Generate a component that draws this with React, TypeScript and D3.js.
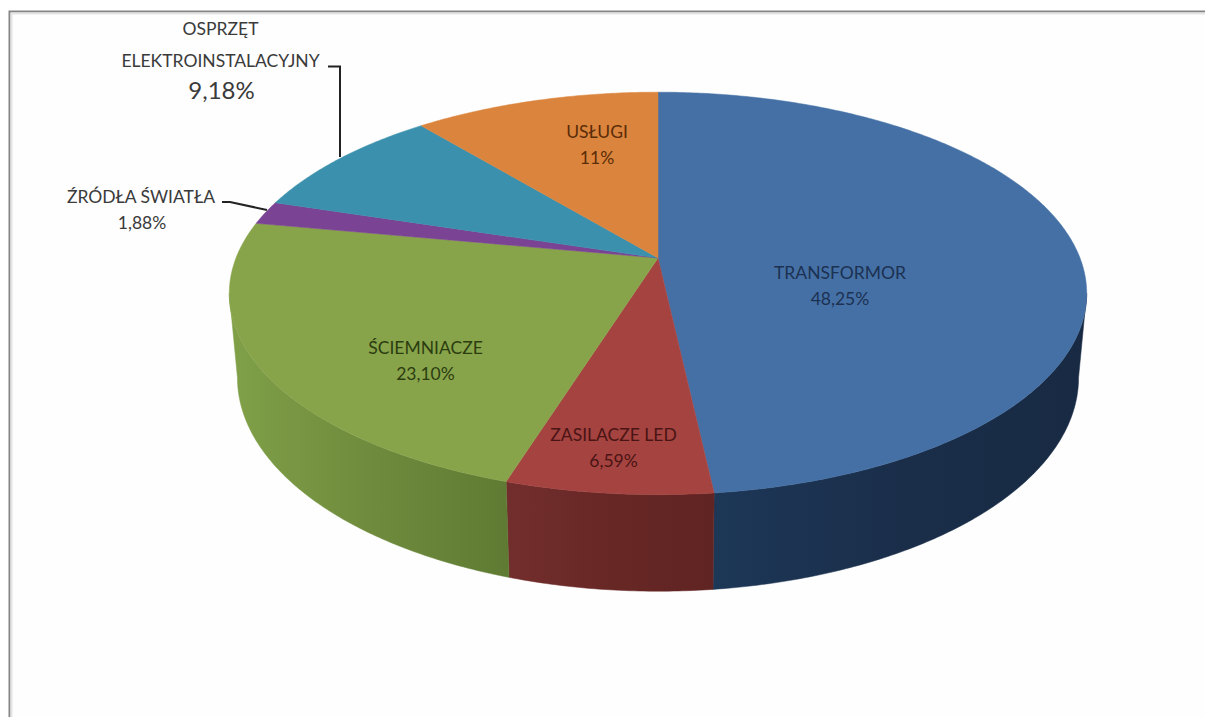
import React from "react";
import * as d3 from "d3";

// Sales structure by product group
const categories = ["TRANSFORMOR", "ZASILACZE LED", "ŚCIEMNIACZE", "ŹRÓDŁA ŚWIATŁA", "OSPRZĘT ELEKTROINSTALACYJNY", "USŁUGI"];
const shares = [48.25, 6.59, 23.1, 1.88, 9.18, 11];
const shareLabels = ["48,25%", "6,59%", "23,10%", "1,88%", "9,18%", "11%"];

const topColors = ["#4470a5", "#a54340", "#88a44b", "#7a4394", "#3b91ad", "#db843d"];
const labelColors = ["#1c3152", "#4a1414", "#2c3d10", "#3a3a3a", "#3a3a3a", "#5a2c08"];
const sideStops: string[][] = [
  ["#1d3757", "#1a2e4a", "#182a43"],
  ["#722e2c", "#672725", "#602422"],
  ["#80a048", "#6f8b3d", "#5f7b33"],
  ["#4a2a5c", "#4a2a5c", "#4a2a5c"],
  ["#25586a", "#25586a", "#25586a"],
  ["#84502a", "#84502a", "#84502a"],
];

// Perspective camera for the two rims of the disc
const cx = 658;
const tilt = 0.176;
const topRim = { a: 422, b: 195, y0: 258 };
const bottomRim = { a: 414, b: 207, y0: 340 };

type Rim = typeof topRim;
const project = (rim: Rim, t: number): [number, number] => {
  const w = 1 + tilt * Math.cos(t);
  return [cx + (rim.a * Math.sin(t)) / w, rim.y0 - (rim.b * Math.cos(t)) / w];
};
const sweep = (t0: number, t1: number) => {
  const n = Math.max(2, Math.ceil((t1 - t0) / 0.01));
  return d3.range(n + 1).map((i) => t0 + ((t1 - t0) * i) / n);
};

const arcs = d3.pie<number>().sort(null).value((d) => d)(shares);
const line = d3.line();
// The wall is visible between the two silhouette angles of the projected rim
const sideMin = Math.acos(-tilt);
const sideMax = 2 * Math.PI - sideMin;

const App = () => {
  const sides = arcs
    .map((arc, i) => {
      const t0 = Math.max(arc.startAngle, sideMin);
      const t1 = Math.min(arc.endAngle, sideMax);
      if (t1 <= t0) return null;
      const ts = sweep(t0, t1);
      const upper = ts.map((t) => project(topRim, t));
      const lower = ts.map((t) => project(bottomRim, t)).reverse();
      const xs = upper.concat(lower).map((p) => p[0]);
      const [x0, x1] = d3.extent(xs) as [number, number];
      return { i, d: line(upper.concat(lower)) + "Z", x0, x1 };
    })
    .filter(Boolean) as { i: number; d: string; x0: number; x1: number }[];

  const faces = arcs.map((arc, i) => {
    const rim = sweep(arc.startAngle, arc.endAngle).map((t) => project(topRim, t));
    return { i, d: line([[cx, topRim.y0] as [number, number], ...rim]) + "Z" };
  });

  const text = { fontFamily: "Lato, 'Open Sans', sans-serif", textAnchor: "middle" as const };
  const inside = [
    { i: 0, x: 840, y: 279 },
    { i: 1, x: 613.5, y: 441 },
    { i: 2, x: 425.5, y: 354 },
    { i: 5, x: 597, y: 138 },
  ];

  return (
    <svg width={1205} height={717} style={{ position: "absolute", left: 0, top: 0, display: "block", background: "#fff" }}>
      <defs>
        {sides.map((s) => (
          <linearGradient key={s.i} id={`side-${s.i}`} gradientUnits="userSpaceOnUse" x1={s.x0} x2={s.x1} y1={0} y2={0}>
            {sideStops[s.i].map((c, k) => (
              <stop key={k} offset={k / 2} stopColor={c} />
            ))}
          </linearGradient>
        ))}
      </defs>

      {/* chart frame, open to the right and bottom */}
      <rect x={11} y={13} width={1194} height={704} fill="#fefefe" />
      <path d="M9.5 717V11.5H1205" fill="none" stroke="#858585" strokeWidth={2} />
      <path d="M11.5 717V13.5H1205" fill="none" stroke="#e4e4e4" strokeWidth={2} />

      {sides.map((s) => (
        <path key={s.i} d={s.d} fill={`url(#side-${s.i})`} stroke={`url(#side-${s.i})`} strokeWidth={0.5} />
      ))}
      {faces.map((f) => (
        <path key={f.i} d={f.d} fill={topColors[f.i]} stroke={topColors[f.i]} strokeWidth={0.5} />
      ))}

      {/* leader lines of the two outside labels */}
      <path d="M328 66.5H340V157" fill="none" stroke="#222" strokeWidth={2} />
      <path d="M222 202L230 202L267 210" fill="none" stroke="#222" strokeWidth={2} />

      {inside.map(({ i, x, y }) => (
        <text key={i} {...text} fontSize={17.5} fill={labelColors[i]}>
          <tspan x={x} y={y}>{categories[i]}</tspan>
          <tspan x={x} y={y + 26}>{shareLabels[i]}</tspan>
        </text>
      ))}

      <text {...text} fontSize={17.5} fill={labelColors[3]}>
        <tspan x={141} y={203}>{categories[3]}</tspan>
        <tspan x={142} y={229}>{shareLabels[3]}</tspan>
      </text>

      <text {...text} fontSize={17.5} fill={labelColors[4]}>
        <tspan x={220.5} y={35}>{categories[4].split(" ")[0]}</tspan>
        <tspan x={220.5} y={67}>{categories[4].split(" ")[1]}</tspan>
      </text>
      <text {...text} x={221.5} y={99} fontSize={24} fill={labelColors[4]}>{shareLabels[4]}</text>
    </svg>
  );
};

export default App;
